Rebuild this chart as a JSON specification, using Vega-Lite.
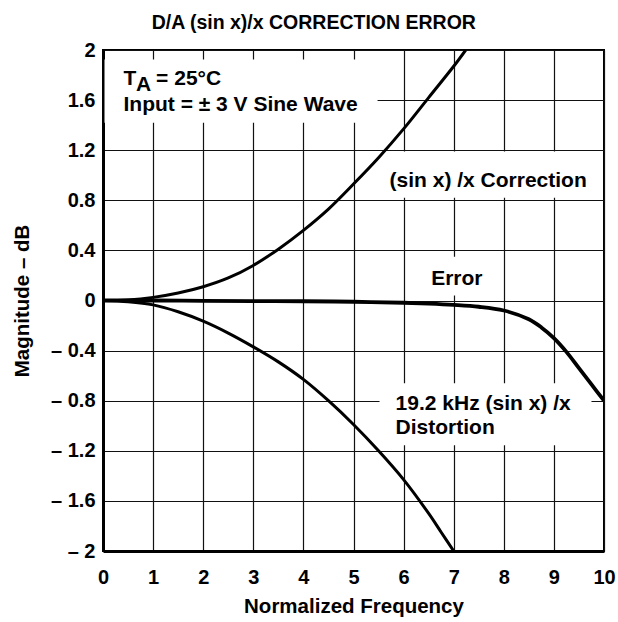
{
  "$schema": "https://vega.github.io/schema/vega-lite/v6.json",
  "width": 501,
  "height": 501,
  "autosize": {"type": "none"},
  "padding": {"left": 103, "top": 50, "right": 14, "bottom": 71},
  "background": "white",
  "title": {
    "text": "D/A (sin x)/x CORRECTION ERROR",
    "font": "Liberation Sans",
    "fontSize": 19.5,
    "fontWeight": "bold",
    "color": "black",
    "anchor": "middle",
    "frame": "bounds",
    "baseline": "alphabetic",
    "offset": 22,
    "dy": 30
  },
  "config": {
    "view": {"stroke": "black", "strokeWidth": 2},
    "axis": {
      "labelFont": "Liberation Sans",
      "labelFontSize": 20,
      "labelFontWeight": "bold",
      "labelColor": "black",
      "titleFont": "Liberation Sans",
      "titleFontSize": 20.5,
      "titleFontWeight": "bold",
      "titleColor": "black",
      "grid": true,
      "gridColor": "#111",
      "gridWidth": 1.2,
      "ticks": false,
      "tickSize": 0,
      "domain": true,
      "domainColor": "black",
      "domainWidth": 3,
      "labelOverlap": false,
      "labelFlush": false,
      "labelBound": false
    }
  },
  "datasets": {
    "curves": [
      {"freq": 0, "mag": 0, "series": "correction"},
      {"freq": 0.5, "mag": 0.005, "series": "correction"},
      {"freq": 1, "mag": 0.025, "series": "correction"},
      {"freq": 1.5, "mag": 0.06, "series": "correction"},
      {"freq": 2, "mag": 0.11, "series": "correction"},
      {"freq": 2.5, "mag": 0.18, "series": "correction"},
      {"freq": 3, "mag": 0.28, "series": "correction"},
      {"freq": 3.5, "mag": 0.41, "series": "correction"},
      {"freq": 4, "mag": 0.56, "series": "correction"},
      {"freq": 4.5, "mag": 0.73, "series": "correction"},
      {"freq": 5, "mag": 0.93, "series": "correction"},
      {"freq": 5.5, "mag": 1.14, "series": "correction"},
      {"freq": 6, "mag": 1.37, "series": "correction"},
      {"freq": 6.5, "mag": 1.62, "series": "correction"},
      {"freq": 7, "mag": 1.87, "series": "correction"},
      {"freq": 7.24, "mag": 2.0, "series": "correction"},
      {"freq": 0, "mag": 0, "series": "distortion"},
      {"freq": 0.5, "mag": -0.01, "series": "distortion"},
      {"freq": 1, "mag": -0.035, "series": "distortion"},
      {"freq": 1.5, "mag": -0.09, "series": "distortion"},
      {"freq": 2, "mag": -0.165, "series": "distortion"},
      {"freq": 2.5, "mag": -0.26, "series": "distortion"},
      {"freq": 3, "mag": -0.37, "series": "distortion"},
      {"freq": 3.5, "mag": -0.49, "series": "distortion"},
      {"freq": 4, "mag": -0.63, "series": "distortion"},
      {"freq": 4.5, "mag": -0.8, "series": "distortion"},
      {"freq": 5, "mag": -0.99, "series": "distortion"},
      {"freq": 5.5, "mag": -1.2, "series": "distortion"},
      {"freq": 6, "mag": -1.43, "series": "distortion"},
      {"freq": 6.5, "mag": -1.7, "series": "distortion"},
      {"freq": 6.75, "mag": -1.85, "series": "distortion"},
      {"freq": 7, "mag": -2.0, "series": "distortion"}
    ],
    "error": [
      {"freq": 0, "mag": 0},
      {"freq": 1, "mag": 0},
      {"freq": 2, "mag": -0.003},
      {"freq": 3, "mag": -0.005},
      {"freq": 4, "mag": -0.006},
      {"freq": 5, "mag": -0.01},
      {"freq": 6, "mag": -0.018},
      {"freq": 6.5, "mag": -0.025},
      {"freq": 7, "mag": -0.035},
      {"freq": 7.5, "mag": -0.05},
      {"freq": 8, "mag": -0.08},
      {"freq": 8.5, "mag": -0.15},
      {"freq": 8.75, "mag": -0.215},
      {"freq": 9, "mag": -0.3},
      {"freq": 9.25, "mag": -0.41},
      {"freq": 9.5, "mag": -0.54},
      {"freq": 9.75, "mag": -0.67},
      {"freq": 10, "mag": -0.8}
    ],
    "boxes": [
      {"bx1": 0.03, "bx2": 5.48, "by1": 1.42, "by2": 1.924},
      {"bx1": 5.52, "bx2": 9.96, "by1": 0.82, "by2": 1.19},
      {"bx1": 6.33, "bx2": 7.71, "by1": 0.04, "by2": 0.35},
      {"bx1": 5.52, "bx2": 9.75, "by1": -1.156, "by2": -0.66}
    ],
    "labels": [
      {"lx": 0.409, "ly": 1.724, "label": "T"},
      {"lx": 0.66, "ly": 1.676, "label": "A"},
      {"lx": 1.06, "ly": 1.724, "label": "= 25°C"},
      {"lx": 0.409, "ly": 1.51, "label": "Input = ± 3 V Sine Wave"},
      {"lx": 5.72, "ly": 0.91, "label": "(sin x) /x Correction"},
      {"lx": 6.55, "ly": 0.124, "label": "Error"},
      {"lx": 5.84, "ly": -0.876, "label": "19.2 kHz (sin x) /x"},
      {"lx": 5.84, "ly": -1.062, "label": "Distortion"}
    ]
  },
  "layer": [
    {
      "data": {"name": "boxes"},
      "mark": {"type": "rect", "fill": "white"},
      "encoding": {
        "x": {
          "field": "bx1",
          "type": "quantitative",
          "scale": {"domain": [0, 10], "nice": false, "zero": false},
          "axis": {
            "values": [0, 1, 2, 3, 4, 5, 6, 7, 8, 9, 10],
            "labelPadding": 16,
            "title": "Normalized Frequency",
            "titlePadding": 9
          }
        },
        "x2": {"field": "bx2"},
        "y": {
          "field": "by1",
          "type": "quantitative",
          "scale": {"domain": [-2, 2], "nice": false, "zero": false},
          "axis": {
            "values": [-2, -1.6, -1.2, -0.8, -0.4, 0, 0.4, 0.8, 1.2, 1.6, 2],
            "labelExpr": "datum.value < 0 ? '– ' + format(abs(datum.value), '.1~f') : format(datum.value, '.1~f')",
            "labelPadding": 8,
            "title": "Magnitude – dB",
            "titleX": -80.5,
            "titleY": 250.5,
            "titleAngle": -90,
            "titleAlign": "center",
            "titleBaseline": "middle"
          }
        },
        "y2": {"field": "by2"}
      }
    },
    {
      "data": {"name": "curves"},
      "mark": {"type": "line", "stroke": "black", "strokeWidth": 3, "interpolate": "catmull-rom", "clip": true},
      "encoding": {
        "x": {"field": "freq", "type": "quantitative"},
        "y": {"field": "mag", "type": "quantitative"},
        "detail": {"field": "series"}
      }
    },
    {
      "data": {"name": "error"},
      "mark": {"type": "line", "stroke": "black", "strokeWidth": 3.8, "interpolate": "catmull-rom", "clip": true},
      "encoding": {
        "x": {"field": "freq", "type": "quantitative"},
        "y": {"field": "mag", "type": "quantitative"}
      }
    },
    {
      "data": {"name": "labels"},
      "mark": {"type": "text", "align": "left", "baseline": "alphabetic", "font": "Liberation Sans", "fontSize": 21, "fontWeight": "bold", "color": "black"},
      "encoding": {
        "x": {"field": "lx", "type": "quantitative"},
        "y": {"field": "ly", "type": "quantitative"},
        "text": {"field": "label"}
      }
    }
  ]
}
